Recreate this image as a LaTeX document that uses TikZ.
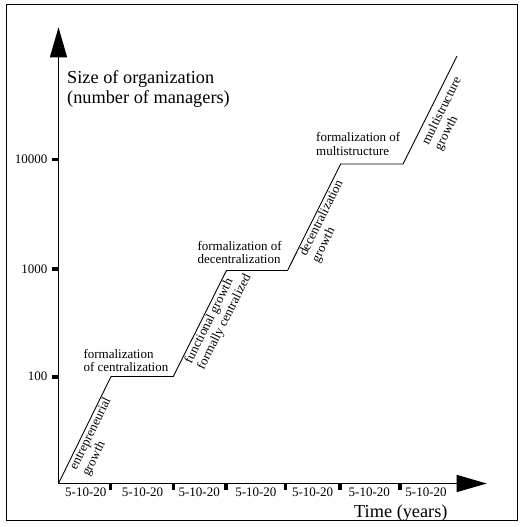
\documentclass[tikz,border=0pt]{standalone}
\usepackage{fontspec}
\setmainfont{Liberation Serif}
\usetikzlibrary{arrows.meta}
\begin{document}
\begin{tikzpicture}[x=1pt,y=-1pt,
  small/.style={font=\fontsize{13}{14}\selectfont},
  big/.style={font=\fontsize{18.3}{20}\selectfont},
  axisline/.style={line width=1.3pt,-{Triangle[length=30pt,width=17pt]}},
  curve/.style={line width=0.9pt},
  tickmark/.style={fill=black},
  rotlabel/.style={small,sloped,anchor=north west,inner sep=1pt,align=left,pos=0.15},
  uplabel/.style={anchor=north west,inner sep=0pt,align=left},
  ylab/.style={small,anchor=east,inner sep=0pt},
  xlab/.style={small,anchor=base,inner sep=0pt}]
\useasboundingbox (0,0) rectangle (523,527);
\draw[line width=0.8pt] (6,4) rectangle (517.5,520.7);
% axes
\coordinate (origin) at (58.5,483.5);
\coordinate (ytip) at (58.5,27.3);
\coordinate (xtip) at (486.7,483.5);
\draw[axisline] (origin) -- (ytip);
\draw[axisline] (origin) -- (xtip);
% y ticks
\fill[tickmark] (51.7,157.5) rectangle (58.5,161.2);
\fill[tickmark] (51.7,267.2) rectangle (58.5,270.9);
\fill[tickmark] (51.7,374.8) rectangle (58.5,378.5);
\node[ylab] (y10000) at (47.5,159.3) {10000};
\node[ylab] (y1000) at (47.5,269) {1000};
\node[ylab] (y100) at (47.5,376.6) {100};
% x ticks
\foreach \tx in {110.3,173.3,225.8,285.3,340,400}
  \fill[tickmark] (\tx-1.75,484) rectangle (\tx+1.75,490);
\foreach \k in {0,...,6}
  \node[xlab] (t\k) at ({85.8+56.7*\k},496.5) {5-10-20};
% axis titles
\node[big,uplabel] (ytitle) at (67,70.5) {Size of organization\\(number of managers)};
\node[big,anchor=base west,inner sep=0pt] (xtitle) at (354,517) {Time (years)};
% curve
\coordinate (c0) at (58.5,483.5);
\coordinate (c1) at (111,376.5);
\coordinate (c2) at (173.3,376.5);
\coordinate (c3) at (226.5,270.5);
\coordinate (c4) at (287.5,270.5);
\coordinate (c5) at (340.7,164);
\coordinate (c6) at (403,164);
\coordinate (c7) at (457,56);
\draw[curve] (c0) -- node[rotlabel] (r1) {entrepreneurial\\growth} (c1)
  -- (c2) -- node[rotlabel] (r2) {functional growth\\formally centralized} (c3)
  -- (c4) -- node[rotlabel,pos=0.16] (r3) {decentralization\\growth} (c5)
  -- (c6) -- node[rotlabel,pos=0.19,outer sep=4.5pt] (r4) {multistructure\\growth} (c7);
% phase labels
\node[uplabel,font=\fontsize{13}{12.3}\selectfont] (f1) at (83.3,349.4) {formalization\\of centralization};
\node[uplabel,font=\fontsize{13}{13.3}\selectfont] (f2) at (197.3,241.1) {formalization of\\decentralization};
\node[uplabel,font=\fontsize{13}{14}\selectfont] (f3) at (316,132.1) {formalization of\\multistructure};
\end{tikzpicture}
\end{document}
